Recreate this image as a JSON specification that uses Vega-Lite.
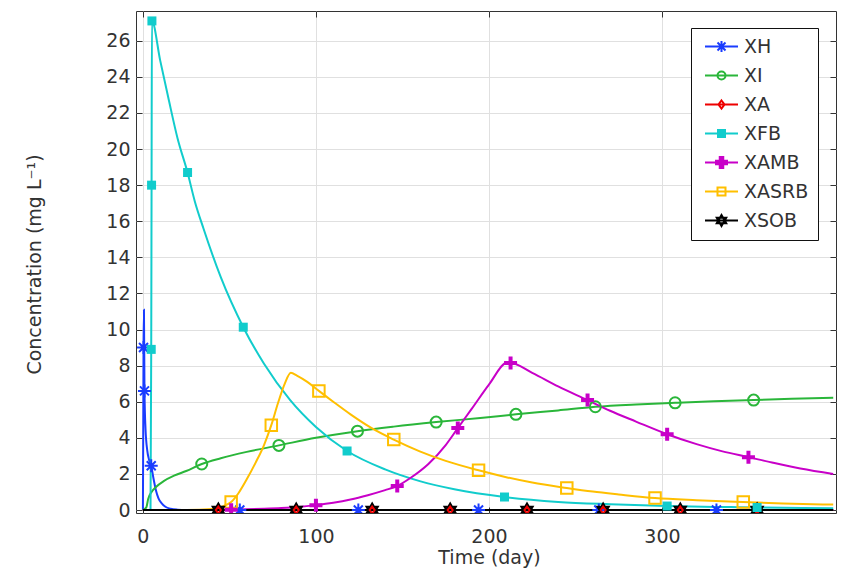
{
  "$schema": "https://vega.github.io/schema/vega-lite/v6.json",
  "width": 700,
  "height": 502,
  "autosize": {"type": "none"},
  "padding": {"left": 136, "top": 11, "right": 10, "bottom": 58},
  "background": "white",
  "config": {
    "font": "DejaVu Sans",
    "view": {"stroke": "#333333", "strokeWidth": 1},
    "axis": {
      "domain": false,
      "tickSize": -6,
      "tickColor": "#333333",
      "tickWidth": 1,
      "labelFontSize": 19,
      "labelColor": "#333333",
      "labelFlush": false,
      "labelOverlap": false,
      "titleFontSize": 19,
      "titleFontWeight": "normal",
      "titleColor": "#333333",
      "gridColor": "#e0e0e0",
      "gridWidth": 1
    },
    "legend": {
      "orient": "none",
      "legendX": 555,
      "legendY": 17,
      "fillColor": "white",
      "strokeColor": "#111111",
      "padding": 9,
      "labelFontSize": 19,
      "labelColor": "#333333",
      "symbolSize": 100,
      "symbolStrokeWidth": 2,
      "symbolOffset": 12,
      "labelOffset": 13,
      "rowPadding": 9
    }
  },
  "datasets": {
    "curves": [
      {"s": "XH", "t": 0, "c": 0}, {"s": "XH", "t": 0.2, "c": 5}, {"s": "XH", "t": 0.35, "c": 9.0},
      {"s": "XH", "t": 0.6, "c": 11.1}, {"s": "XH", "t": 0.9, "c": 6.6}, {"s": "XH", "t": 1.5, "c": 4.5},
      {"s": "XH", "t": 2.5, "c": 3.3}, {"s": "XH", "t": 3.5, "c": 2.8}, {"s": "XH", "t": 4.8, "c": 2.45},
      {"s": "XH", "t": 6, "c": 1.8}, {"s": "XH", "t": 7.5, "c": 1.1}, {"s": "XH", "t": 9, "c": 0.65},
      {"s": "XH", "t": 11, "c": 0.35}, {"s": "XH", "t": 13, "c": 0.18}, {"s": "XH", "t": 16, "c": 0.07},
      {"s": "XH", "t": 20, "c": 0.02}, {"s": "XH", "t": 25, "c": 0}, {"s": "XH", "t": 399, "c": 0},

      {"s": "XI", "t": 0, "c": 0}, {"s": "XI", "t": 2, "c": 0.15}, {"s": "XI", "t": 3, "c": 0.6},
      {"s": "XI", "t": 5, "c": 1.0}, {"s": "XI", "t": 7.7, "c": 1.29}, {"s": "XI", "t": 12, "c": 1.6},
      {"s": "XI", "t": 18, "c": 1.9}, {"s": "XI", "t": 25, "c": 2.16}, {"s": "XI", "t": 34, "c": 2.55},
      {"s": "XI", "t": 45, "c": 2.87}, {"s": "XI", "t": 60, "c": 3.22}, {"s": "XI", "t": 78.6, "c": 3.58},
      {"s": "XI", "t": 100, "c": 4.0}, {"s": "XI", "t": 124, "c": 4.37}, {"s": "XI", "t": 145, "c": 4.62},
      {"s": "XI", "t": 169.5, "c": 4.87}, {"s": "XI", "t": 195, "c": 5.1}, {"s": "XI", "t": 215.6, "c": 5.3},
      {"s": "XI", "t": 240, "c": 5.52}, {"s": "XI", "t": 261.5, "c": 5.72}, {"s": "XI", "t": 285, "c": 5.85},
      {"s": "XI", "t": 307.6, "c": 5.94}, {"s": "XI", "t": 330, "c": 6.02}, {"s": "XI", "t": 353, "c": 6.09},
      {"s": "XI", "t": 375, "c": 6.16}, {"s": "XI", "t": 399, "c": 6.22},

      {"s": "XA", "t": 0, "c": 0}, {"s": "XA", "t": 399, "c": 0},

      {"s": "XFB", "t": 0, "c": 0}, {"s": "XFB", "t": 4.4, "c": 0}, {"s": "XFB", "t": 4.8, "c": 8.9},
      {"s": "XFB", "t": 5.0, "c": 18.0}, {"s": "XFB", "t": 5.2, "c": 27.1}, {"s": "XFB", "t": 10, "c": 24.9},
      {"s": "XFB", "t": 15, "c": 22.7}, {"s": "XFB", "t": 20, "c": 20.6}, {"s": "XFB", "t": 25.8, "c": 18.7},
      {"s": "XFB", "t": 30, "c": 17.1}, {"s": "XFB", "t": 35, "c": 15.6}, {"s": "XFB", "t": 45, "c": 12.9},
      {"s": "XFB", "t": 58, "c": 10.13}, {"s": "XFB", "t": 70, "c": 8.1}, {"s": "XFB", "t": 85, "c": 6.1},
      {"s": "XFB", "t": 100, "c": 4.6}, {"s": "XFB", "t": 118, "c": 3.27}, {"s": "XFB", "t": 140, "c": 2.25},
      {"s": "XFB", "t": 160, "c": 1.6}, {"s": "XFB", "t": 180, "c": 1.15}, {"s": "XFB", "t": 209, "c": 0.72},
      {"s": "XFB", "t": 240, "c": 0.45}, {"s": "XFB", "t": 270, "c": 0.32}, {"s": "XFB", "t": 303, "c": 0.22},
      {"s": "XFB", "t": 340, "c": 0.16}, {"s": "XFB", "t": 370, "c": 0.12}, {"s": "XFB", "t": 399, "c": 0.1},

      {"s": "XAMB", "t": 0, "c": 0}, {"s": "XAMB", "t": 40, "c": 0}, {"s": "XAMB", "t": 50, "c": 0.02},
      {"s": "XAMB", "t": 60, "c": 0.04}, {"s": "XAMB", "t": 70, "c": 0.07}, {"s": "XAMB", "t": 80, "c": 0.11},
      {"s": "XAMB", "t": 90, "c": 0.17}, {"s": "XAMB", "t": 100, "c": 0.27}, {"s": "XAMB", "t": 110, "c": 0.4},
      {"s": "XAMB", "t": 120, "c": 0.58}, {"s": "XAMB", "t": 130, "c": 0.82}, {"s": "XAMB", "t": 140, "c": 1.1},
      {"s": "XAMB", "t": 147, "c": 1.33}, {"s": "XAMB", "t": 155, "c": 1.8}, {"s": "XAMB", "t": 165, "c": 2.55},
      {"s": "XAMB", "t": 175, "c": 3.6}, {"s": "XAMB", "t": 182, "c": 4.54}, {"s": "XAMB", "t": 190, "c": 5.6},
      {"s": "XAMB", "t": 200, "c": 6.95}, {"s": "XAMB", "t": 211, "c": 8.2},
      {"s": "XAMB", "t": 225, "c": 7.6}, {"s": "XAMB", "t": 240, "c": 6.85}, {"s": "XAMB", "t": 257, "c": 6.09},
      {"s": "XAMB", "t": 270, "c": 5.5}, {"s": "XAMB", "t": 285, "c": 4.9}, {"s": "XAMB", "t": 303, "c": 4.2},
      {"s": "XAMB", "t": 320, "c": 3.65}, {"s": "XAMB", "t": 335, "c": 3.25}, {"s": "XAMB", "t": 350, "c": 2.93},
      {"s": "XAMB", "t": 365, "c": 2.6}, {"s": "XAMB", "t": 380, "c": 2.3}, {"s": "XAMB", "t": 399, "c": 2.0},

      {"s": "XASRB", "t": 0, "c": 0}, {"s": "XASRB", "t": 25, "c": 0}, {"s": "XASRB", "t": 40, "c": 0.05},
      {"s": "XASRB", "t": 46, "c": 0.2}, {"s": "XASRB", "t": 51, "c": 0.44}, {"s": "XASRB", "t": 55, "c": 0.9},
      {"s": "XASRB", "t": 60, "c": 1.7}, {"s": "XASRB", "t": 65, "c": 2.6}, {"s": "XASRB", "t": 70, "c": 3.6},
      {"s": "XASRB", "t": 74.2, "c": 4.7}, {"s": "XASRB", "t": 78, "c": 5.9}, {"s": "XASRB", "t": 82, "c": 7.0},
      {"s": "XASRB", "t": 85.5, "c": 7.6}, {"s": "XASRB", "t": 89, "c": 7.45}, {"s": "XASRB", "t": 95, "c": 7.1},
      {"s": "XASRB", "t": 101.7, "c": 6.6}, {"s": "XASRB", "t": 110, "c": 6.0}, {"s": "XASRB", "t": 120, "c": 5.3},
      {"s": "XASRB", "t": 132, "c": 4.55}, {"s": "XASRB", "t": 145, "c": 3.9}, {"s": "XASRB", "t": 160, "c": 3.25},
      {"s": "XASRB", "t": 175, "c": 2.72}, {"s": "XASRB", "t": 194, "c": 2.2}, {"s": "XASRB", "t": 210, "c": 1.82},
      {"s": "XASRB", "t": 225, "c": 1.52}, {"s": "XASRB", "t": 245, "c": 1.22}, {"s": "XASRB", "t": 260, "c": 1.02},
      {"s": "XASRB", "t": 275, "c": 0.86}, {"s": "XASRB", "t": 296, "c": 0.66}, {"s": "XASRB", "t": 320, "c": 0.54},
      {"s": "XASRB", "t": 347, "c": 0.44}, {"s": "XASRB", "t": 370, "c": 0.36}, {"s": "XASRB", "t": 399, "c": 0.3},

      {"s": "XSOB", "t": 0, "c": 0}, {"s": "XSOB", "t": 399, "c": 0}
    ],
    "markers": [
      {"s": "XH", "t": 0.35, "c": 9.0}, {"s": "XH", "t": 0.9, "c": 6.6}, {"s": "XH", "t": 4.8, "c": 2.45},
      {"s": "XH", "t": 56, "c": 0}, {"s": "XH", "t": 124.5, "c": 0}, {"s": "XH", "t": 194, "c": 0},
      {"s": "XH", "t": 263.5, "c": 0}, {"s": "XH", "t": 331.5, "c": 0},

      {"s": "XI", "t": 34, "c": 2.55}, {"s": "XI", "t": 78.6, "c": 3.58}, {"s": "XI", "t": 124, "c": 4.37},
      {"s": "XI", "t": 169.5, "c": 4.87}, {"s": "XI", "t": 215.6, "c": 5.3}, {"s": "XI", "t": 261.5, "c": 5.72},
      {"s": "XI", "t": 307.6, "c": 5.94}, {"s": "XI", "t": 353, "c": 6.09},

      {"s": "XASRB", "t": 51, "c": 0.44}, {"s": "XASRB", "t": 74.2, "c": 4.7}, {"s": "XASRB", "t": 101.7, "c": 6.6},
      {"s": "XASRB", "t": 145, "c": 3.9}, {"s": "XASRB", "t": 194, "c": 2.2}, {"s": "XASRB", "t": 245, "c": 1.22},
      {"s": "XASRB", "t": 296, "c": 0.66}, {"s": "XASRB", "t": 347, "c": 0.44},

      {"s": "XSOB", "t": 43.6, "c": 0}, {"s": "XSOB", "t": 88.6, "c": 0}, {"s": "XSOB", "t": 132.5, "c": 0},
      {"s": "XSOB", "t": 177.6, "c": 0}, {"s": "XSOB", "t": 222, "c": 0}, {"s": "XSOB", "t": 266, "c": 0},
      {"s": "XSOB", "t": 310.6, "c": 0}, {"s": "XSOB", "t": 355, "c": 0},

      {"s": "XA", "t": 43.6, "c": 0}, {"s": "XA", "t": 88.6, "c": 0}, {"s": "XA", "t": 132.5, "c": 0},
      {"s": "XA", "t": 177.6, "c": 0}, {"s": "XA", "t": 222, "c": 0}, {"s": "XA", "t": 266, "c": 0},
      {"s": "XA", "t": 310.6, "c": 0}, {"s": "XA", "t": 355, "c": 0},

      {"s": "XFB", "t": 4.8, "c": 8.9}, {"s": "XFB", "t": 5.0, "c": 18.0}, {"s": "XFB", "t": 5.2, "c": 27.1},
      {"s": "XFB", "t": 25.8, "c": 18.7}, {"s": "XFB", "t": 58, "c": 10.13}, {"s": "XFB", "t": 118, "c": 3.27},
      {"s": "XFB", "t": 209, "c": 0.72}, {"s": "XFB", "t": 303, "c": 0.22}, {"s": "XFB", "t": 355, "c": 0.14},

      {"s": "XAMB", "t": 51, "c": 0.02}, {"s": "XAMB", "t": 100, "c": 0.27}, {"s": "XAMB", "t": 147, "c": 1.33},
      {"s": "XAMB", "t": 182, "c": 4.54}, {"s": "XAMB", "t": 212.5, "c": 8.15}, {"s": "XAMB", "t": 257, "c": 6.09},
      {"s": "XAMB", "t": 303, "c": 4.2}, {"s": "XAMB", "t": 350, "c": 2.93}
    ]
  },
  "layer": [
    {
      "data": {"name": "curves"},
      "mark": {"type": "line", "strokeWidth": 2, "interpolate": "monotone", "clip": true},
      "encoding": {
        "x": {
          "field": "t", "type": "quantitative",
          "scale": {"domain": [-4, 400.6], "nice": false, "zero": false},
          "axis": {
            "orient": "bottom", "values": [0, 100, 200, 300], "grid": true,
            "labelPadding": 20,
            "title": "Time (day)", "titleX": 353, "titleY": 44,
            "titleAlign": "center", "titleBaseline": "middle"
          }
        },
        "y": {
          "field": "c", "type": "quantitative",
          "scale": {"domain": [-0.166, 27.65], "nice": false, "zero": false},
          "axis": {
            "orient": "left",
            "values": [0, 2, 4, 6, 8, 10, 12, 14, 16, 18, 20, 22, 24, 26],
            "grid": true, "labelPadding": 12,
            "title": "Concentration (mg L⁻¹)", "titleX": -102, "titleY": 253,
            "titleAngle": 270, "titleAlign": "center", "titleBaseline": "middle"
          }
        },
        "color": {
          "field": "s", "type": "nominal",
          "scale": {
            "domain": ["XH", "XI", "XA", "XFB", "XAMB", "XASRB", "XSOB"],
            "range": ["#1a3cff", "#2ab63a", "#ee0000", "#11cccc", "#c800c8", "#ffbf00", "#000000"]
          },
          "legend": null
        }
      }
    },
    {
      "data": {"name": "markers"},
      "transform": [{"filter": {"field": "s", "oneOf": ["XH", "XI", "XA", "XASRB", "XSOB"]}}],
      "mark": {"type": "point", "filled": false, "opacity": 1, "strokeWidth": 2, "size": 100, "clip": true},
      "encoding": {
        "x": {
          "field": "t", "type": "quantitative",
          "axis": {"orient": "top", "values": [0, 100, 200, 300], "labels": false, "grid": false, "title": null}
        },
        "y": {
          "field": "c", "type": "quantitative",
          "axis": {
            "orient": "right",
            "values": [0, 2, 4, 6, 8, 10, 12, 14, 16, 18, 20, 22, 24, 26],
            "labels": false, "grid": false, "title": null
          }
        },
        "color": {"field": "s", "type": "nominal", "legend": null},
        "shape": {
          "field": "s", "type": "nominal",
          "scale": {
            "domain": ["XH", "XI", "XA", "XASRB", "XSOB"],
            "range": [
              "M0,-1.3V1.3M-1.3,0H1.3M-0.9,-0.9L0.9,0.9M-0.9,0.9L0.9,-0.9",
              "M1.1,0A1.1,1.1,0,1,1,-1.1,0A1.1,1.1,0,1,1,1.1,0Z",
              "M0,-0.7L0.5,0L0,0.7L-0.5,0Z",
              "M-1.15,-1.15H1.15V1.15H-1.15Z",
              "M0,-1.3L1.126,0.65L-1.126,0.65ZM0,1.3L1.126,-0.65L-1.126,-0.65Z"
            ]
          },
          "legend": null
        }
      }
    },
    {
      "data": {"name": "markers"},
      "transform": [{"filter": {"field": "s", "oneOf": ["XFB", "XAMB"]}}],
      "mark": {"type": "point", "filled": true, "opacity": 1, "size": 100, "clip": true},
      "encoding": {
        "x": {"field": "t", "type": "quantitative", "axis": null},
        "y": {"field": "c", "type": "quantitative", "axis": null},
        "color": {"field": "s", "type": "nominal", "legend": null},
        "shape": {
          "field": "s", "type": "nominal",
          "scale": {
            "domain": ["XFB", "XAMB"],
            "range": [
              "M-0.9,-0.9H0.9V0.9H-0.9Z",
              "M-0.4,-1.3H0.4V-0.4H1.3V0.4H0.4V1.3H-0.4V0.4H-1.3V-0.4H-0.4Z"
            ]
          },
          "legend": null
        }
      }
    },
    {
      "data": {"name": "markers"},
      "transform": [{"filter": "false"}],
      "mark": {
        "type": "point",
        "filled": false,
        "opacity": 1,
        "strokeWidth": 2,
        "fill": {"expr": "(datum.value || datum.s) === 'XFB' ? '#11cccc' : (datum.value || datum.s) === 'XAMB' ? '#c800c8' : 'transparent'"},
        "stroke": {"expr": "(datum.value || datum.s) === 'XH' ? '#1a3cff' : (datum.value || datum.s) === 'XI' ? '#2ab63a' : (datum.value || datum.s) === 'XA' ? '#ee0000' : (datum.value || datum.s) === 'XFB' ? '#11cccc' : (datum.value || datum.s) === 'XAMB' ? '#c800c8' : (datum.value || datum.s) === 'XASRB' ? '#ffbf00' : '#000000'"}
      },
      "encoding": {
        "x": {"field": "t", "type": "quantitative", "axis": null},
        "y": {"field": "c", "type": "quantitative", "axis": null},
        "shape": {
          "field": "s", "type": "nominal",
          "scale": {
            "domain": ["XH", "XI", "XA", "XFB", "XAMB", "XASRB", "XSOB"],
            "range": [
              "M-3.3,0H3.3M0,-1.1V1.1M-0.8,-0.8L0.8,0.8M-0.8,0.8L0.8,-0.8",
              "M-3.3,0H3.3M0.8,0A0.8,0.8,0,1,1,-0.8,0A0.8,0.8,0,1,1,0.8,0Z",
              "M-3.3,0H3.3M0,-0.8L0.6,0L0,0.8L-0.6,0Z",
              "M-3.3,0H3.3M-0.7,-0.7H0.7V0.7H-0.7Z",
              "M-3.3,0H3.3M-0.35,-1.1H0.35V-0.35H1.1V0.35H0.35V1.1H-0.35V0.35H-1.1V-0.35H-0.35Z",
              "M-3.3,0H3.3M-0.8,-0.8H0.8V0.8H-0.8Z",
              "M-3.3,0H3.3M0,-1.1L0.95,0.55L-0.95,0.55ZM0,1.1L0.95,-0.55L-0.95,-0.55Z"
            ]
          },
          "legend": {"title": null}
        }
      }
    }
  ],
  "resolve": {
    "scale": {"shape": "independent"},
    "axis": {"x": "independent", "y": "independent"},
    "legend": {"shape": "independent"}
  }
}
